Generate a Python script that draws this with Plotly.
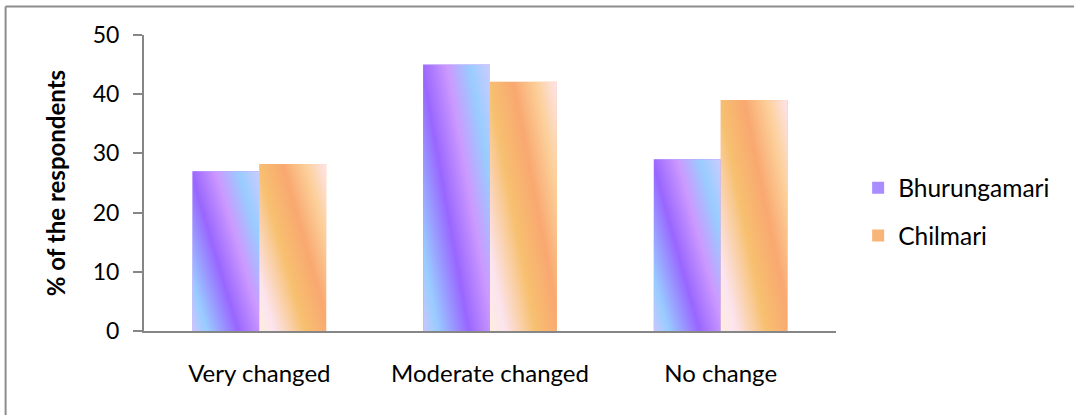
import base64
import plotly.graph_objects as go

# Survey results: share of respondents per perceived change
categories = ["Very changed", "Moderate changed", "No change"]
bhurungamari = [27, 45, 29]
chilmari = [28.2, 42.1, 39]
series_names = ["Bhurungamari", "Chilmari"]
y_ticks = [0, 10, 20, 30, 40, 50]

# Diagonal gradient stops (offset, colour) for each series
stop_offsets = [0.0, 0.13, 0.40, 0.62, 0.82, 1.0]
bhur_colours = ["#c8c8fc", "#99ccff", "#9966ff", "#cc99ff", "#99ccff", "#ccccff"]
chil_colours = ["#fdeedd", "#fce4ef", "#f7c070", "#f9a870", "#fcd09a", "#fde4ec"]
base_colours = ["#a98cff", "#f8b57a"]

BARGAP = 0.42
FONT = "Lato"
AXIS_GREY = "#868686"


def gradient_uri(colours):
    stops = "".join(
        f'<stop offset="{o}" stop-color="{c}"/>' for o, c in zip(stop_offsets, colours)
    )
    svg = (
        '<svg xmlns="http://www.w3.org/2000/svg" width="100" height="100" '
        'viewBox="0 0 100 100" preserveAspectRatio="none">'
        '<defs><linearGradient id="g" x1="0" y1="1" x2="1.137" y2="0.193">'
        f"{stops}</linearGradient></defs>"
        '<rect x="0" y="0" width="100" height="100" fill="url(#g)"/></svg>'
    )
    return "data:image/svg+xml;base64," + base64.b64encode(svg.encode()).decode()


positions = list(range(len(categories)))
series_values = [bhurungamari, chilmari]
series_uris = [gradient_uri(bhur_colours), gradient_uri(chil_colours)]

fig = go.Figure()
for name, vals, colour in zip(series_names, series_values, base_colours):
    fig.add_trace(
        go.Bar(
            x=positions,
            y=vals,
            name=name,
            legendgroup=name,
            marker=dict(color=colour, line=dict(width=0)),
        )
    )

# Gradient overlays aligned with each grouped bar
bar_w = (1 - BARGAP) / len(series_names)
images = []
for j, (vals, uri) in enumerate(zip(series_values, series_uris)):
    for i, v in zip(positions, vals):
        x_left = i - bar_w * len(series_names) / 2 + j * bar_w
        images.append(
            dict(
                source=uri,
                xref="x",
                yref="y",
                x=x_left,
                y=v,
                sizex=bar_w,
                sizey=v,
                xanchor="left",
                yanchor="top",
                sizing="stretch",
                layer="above",
            )
        )

# Chart frame (top and left edges)
frame_x = -0.2
frame_y = 1.096
shapes = [
    dict(type="line", xref="paper", yref="paper", x0=frame_x, x1=1.5,
         y0=frame_y, y1=frame_y, line=dict(color="#8c8c8c", width=2)),
    dict(type="line", xref="paper", yref="paper", x0=frame_x, x1=frame_x,
         y0=frame_y, y1=-0.5, line=dict(color="#8c8c8c", width=2)),
]

fig.update_layout(
    width=1074,
    height=415,
    margin=dict(l=144, r=238, t=35, b=84),
    paper_bgcolor="white",
    plot_bgcolor="white",
    barmode="group",
    bargap=BARGAP,
    bargroupgap=0,
    font=dict(family=FONT, size=24, color="black"),
    images=images,
    shapes=shapes,
    showlegend=True,
    legend=dict(
        x=1.032,
        xanchor="left",
        y=0.56,
        yanchor="top",
        font=dict(family=FONT, size=24.5, color="black"),
        tracegroupgap=13,
        bgcolor="rgba(0,0,0,0)",
    ),
    xaxis=dict(
        range=[-0.5, 2.5],
        tickmode="array",
        tickvals=positions,
        ticktext=categories,
        showline=True,
        linecolor=AXIS_GREY,
        linewidth=2,
        ticks="",
        showgrid=False,
        zeroline=False,
        ticklabelstandoff=20,
        tickfont=dict(family=FONT, size=24, color="black"),
    ),
    yaxis=dict(
        range=[0, 50],
        tickmode="array",
        tickvals=y_ticks,
        showline=True,
        linecolor=AXIS_GREY,
        linewidth=2,
        ticks="outside",
        ticklen=9,
        tickwidth=2,
        tickcolor=AXIS_GREY,
        showgrid=False,
        zeroline=False,
        ticklabelstandoff=9,
        tickfont=dict(family=FONT, size=23, color="black"),
        title=dict(
            text="<b>% of the respondents</b>",
            font=dict(family=FONT, size=24, color="black"),
            standoff=20,
        ),
    ),
)

fig.write_html("out.html")
